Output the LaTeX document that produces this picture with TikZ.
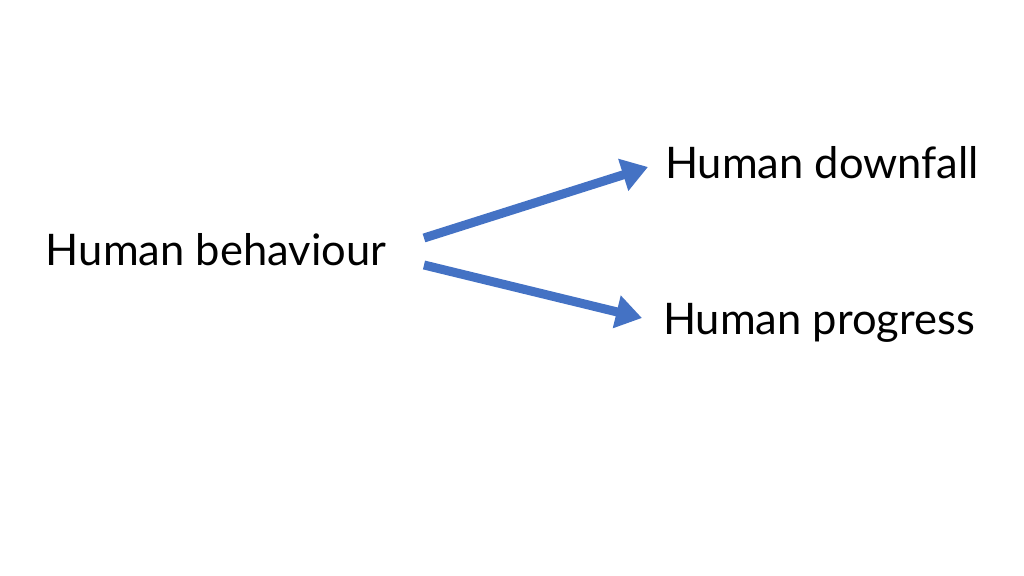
\documentclass[tikz,border=0pt]{standalone}
\usepackage{fontspec}
\setmainfont{Lato}
\usetikzlibrary{arrows.meta}
\begin{document}
\begin{tikzpicture}[x=1pt,y=1pt,inner sep=0pt,outer sep=0pt,
label/.style={font=\fontsize{43.5}{52}\selectfont},
flow/.style={draw={rgb,255:red,68;green,114;blue,196},line width=9pt,-{Triangle[length=26pt,width=32pt]}}]
\useasboundingbox (0,0) rectangle (1024,575);
\node[label] (beh) at (216,325) {Human behaviour};
\node[label,anchor=west] (down) at (665,412) {Human downfall};
\node[label,anchor=west] (prog) at (663,252) {Human progress};
\coordinate (b1) at (424,337);
\coordinate (b2) at (424,310);
\coordinate (d1) at (648,408);
\coordinate (p1) at (642,257);
\draw[flow] (b1) -- (d1);
\draw[flow] (b2) -- (p1);
\end{tikzpicture}
\end{document}
